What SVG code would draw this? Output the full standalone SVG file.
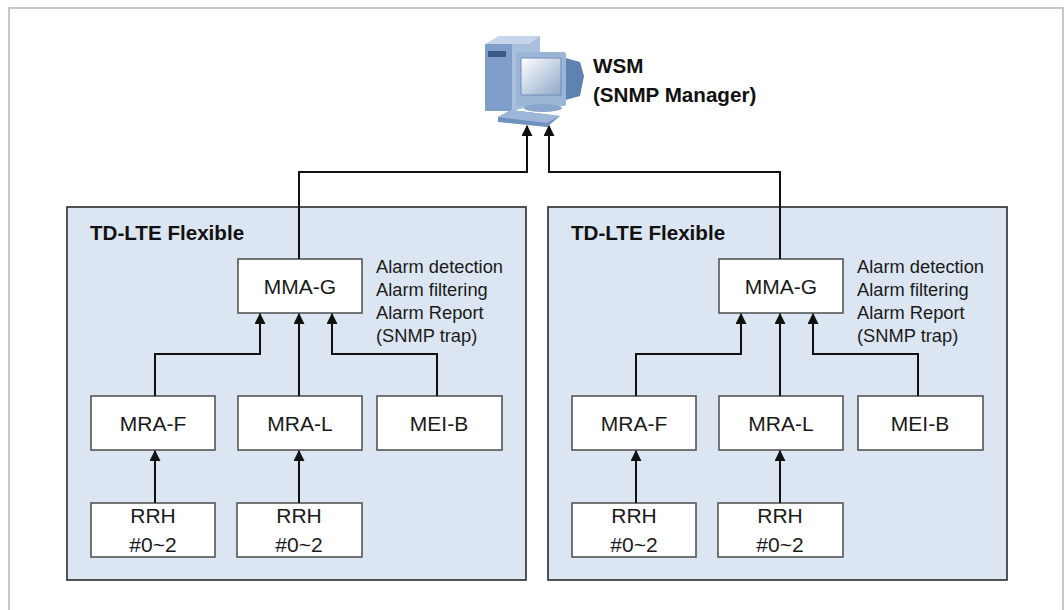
<svg xmlns="http://www.w3.org/2000/svg" width="1064" height="610" viewBox="0 0 1064 610">
  <style>
    .frame { fill: none; stroke: #c8c8c8; stroke-width: 2; }
    .panel { fill: #dce6f2; stroke: #2b2b2b; stroke-width: 1.6; }
    .box { fill: #ffffff; stroke: #555555; stroke-width: 1.6; }
    .lbl { font-family: "Liberation Sans", Arial, sans-serif; font-size: 21px; fill: #1a1a1a; text-anchor: middle; }
    .note { font-family: "Liberation Sans", Arial, sans-serif; font-size: 18.3px; fill: #1a1a1a; }
    .title { font-family: "Liberation Sans", Arial, sans-serif; font-size: 20.6px; font-weight: bold; fill: #111111; }
    .conn { fill: none; stroke: #111111; stroke-width: 2; marker-end: url(#arrow); }
  </style>
  <defs>
    <marker id="arrow" viewBox="0 0 10 10" refX="9" refY="5" markerWidth="5.5" markerHeight="5.5" orient="auto" markerUnits="strokeWidth">
      <path d="M0,0 L10,5 L0,10 z" fill="#111111"/>
    </marker>
    <linearGradient id="screen" x1="0" y1="0" x2="1" y2="1">
      <stop offset="0" stop-color="#ffffff"/>
      <stop offset="1" stop-color="#8ea8c8"/>
    </linearGradient>
  </defs>

  <!-- outer frame -->
  <path class="frame" d="M9,610 V8 H1063 V610"/>

  <!-- management station -->
  <g id="wsm">
    <!-- tower -->
    <polygon points="485,44 499,36 540,36 528,44" fill="#c6d6ea"/>
    <rect x="485" y="44" width="27" height="67" fill="#7f9fca"/>
    <polygon points="512,44 528,44 540,36 540,104 512,111" fill="#a8c0de"/>
    <rect x="488" y="51" width="18" height="6" fill="#3e5a82"/>
    <!-- monitor back -->
    <polygon points="562,57 580,62 584,76 580,96 562,101" fill="#5f82b2"/>
    <!-- monitor front -->
    <rect x="516" y="52" width="50" height="54" rx="2" fill="#9bb5d6"/>
    <rect x="521" y="58" width="40" height="37" fill="url(#screen)"/>
    <path d="M521,58 h40 v37 h-40 z" fill="none" stroke="#6f8db8" stroke-width="1"/>
    <ellipse cx="543" cy="108" rx="19" ry="4" fill="#8aa6cc"/>
    <!-- keyboard -->
    <polygon points="498,117 511,110 560,116 547,127 498,122" fill="#6f91c0"/>
    <polygon points="498,117 511,110 560,116 547,123" fill="#9cb7da"/>
    <text class="title" x="593" y="73">WSM</text>
    <text class="title" x="593" y="102">(SNMP Manager)</text>
  </g>

  <!-- left site -->
  <g id="site1">
    <rect class="panel" x="67" y="207" width="459" height="373"/>
    <text class="title" x="90" y="240">TD-LTE Flexible</text>
  </g>
  <g id="site1-mma">
    <rect class="box" x="238" y="259" width="124" height="54"/>
    <text class="lbl" x="300" y="294">MMA-G</text>
    <text class="note" x="376" y="273">Alarm detection</text>
    <text class="note" x="376" y="296">Alarm filtering</text>
    <text class="note" x="376" y="319">Alarm Report</text>
    <text class="note" x="376" y="342">(SNMP trap)</text>
  </g>
  <g id="site1-mraf">
    <rect class="box" x="91" y="396" width="124" height="54"/>
    <text class="lbl" x="153" y="431">MRA-F</text>
  </g>
  <g id="site1-mral">
    <rect class="box" x="238" y="396" width="124" height="54"/>
    <text class="lbl" x="300" y="431">MRA-L</text>
  </g>
  <g id="site1-meib">
    <rect class="box" x="377" y="396" width="125" height="54"/>
    <text class="lbl" x="439" y="431">MEI-B</text>
  </g>
  <g id="site1-rrh1">
    <rect class="box" x="91" y="503" width="124" height="54"/>
    <text class="lbl" x="153" y="523">RRH</text>
    <text class="lbl" x="153" y="552">#0~2</text>
  </g>
  <g id="site1-rrh2">
    <rect class="box" x="237" y="503" width="125" height="54"/>
    <text class="lbl" x="299" y="523">RRH</text>
    <text class="lbl" x="299" y="552">#0~2</text>
  </g>

  <!-- right site -->
  <g id="site2">
    <rect class="panel" x="548" y="207" width="459" height="373"/>
    <text class="title" x="571" y="240">TD-LTE Flexible</text>
  </g>
  <g id="site2-mma">
    <rect class="box" x="719" y="259" width="124" height="54"/>
    <text class="lbl" x="781" y="294">MMA-G</text>
    <text class="note" x="857" y="273">Alarm detection</text>
    <text class="note" x="857" y="296">Alarm filtering</text>
    <text class="note" x="857" y="319">Alarm Report</text>
    <text class="note" x="857" y="342">(SNMP trap)</text>
  </g>
  <g id="site2-mraf">
    <rect class="box" x="572" y="396" width="124" height="54"/>
    <text class="lbl" x="634" y="431">MRA-F</text>
  </g>
  <g id="site2-mral">
    <rect class="box" x="719" y="396" width="124" height="54"/>
    <text class="lbl" x="781" y="431">MRA-L</text>
  </g>
  <g id="site2-meib">
    <rect class="box" x="858" y="396" width="125" height="54"/>
    <text class="lbl" x="920" y="431">MEI-B</text>
  </g>
  <g id="site2-rrh1">
    <rect class="box" x="572" y="503" width="124" height="54"/>
    <text class="lbl" x="634" y="523">RRH</text>
    <text class="lbl" x="634" y="552">#0~2</text>
  </g>
  <g id="site2-rrh2">
    <rect class="box" x="718" y="503" width="125" height="54"/>
    <text class="lbl" x="780" y="523">RRH</text>
    <text class="lbl" x="780" y="552">#0~2</text>
  </g>

  <!-- connectors -->
  <g id="connectors">
    <!-- MMA-G to WSM -->
    <path class="conn" d="M299,259 V172 H527 V126"/>
    <path class="conn" d="M780,259 V172 H549 V126"/>
    <!-- left site -->
    <path class="conn" d="M155,396 V354 H260 V314"/>
    <path class="conn" d="M299,396 V314"/>
    <path class="conn" d="M437,396 V354 H332 V314"/>
    <path class="conn" d="M155,503 V451"/>
    <path class="conn" d="M299,503 V451"/>
    <!-- right site -->
    <path class="conn" d="M636,396 V354 H741 V314"/>
    <path class="conn" d="M780,396 V314"/>
    <path class="conn" d="M918,396 V354 H813 V314"/>
    <path class="conn" d="M636,503 V451"/>
    <path class="conn" d="M780,503 V451"/>
  </g>
</svg>
